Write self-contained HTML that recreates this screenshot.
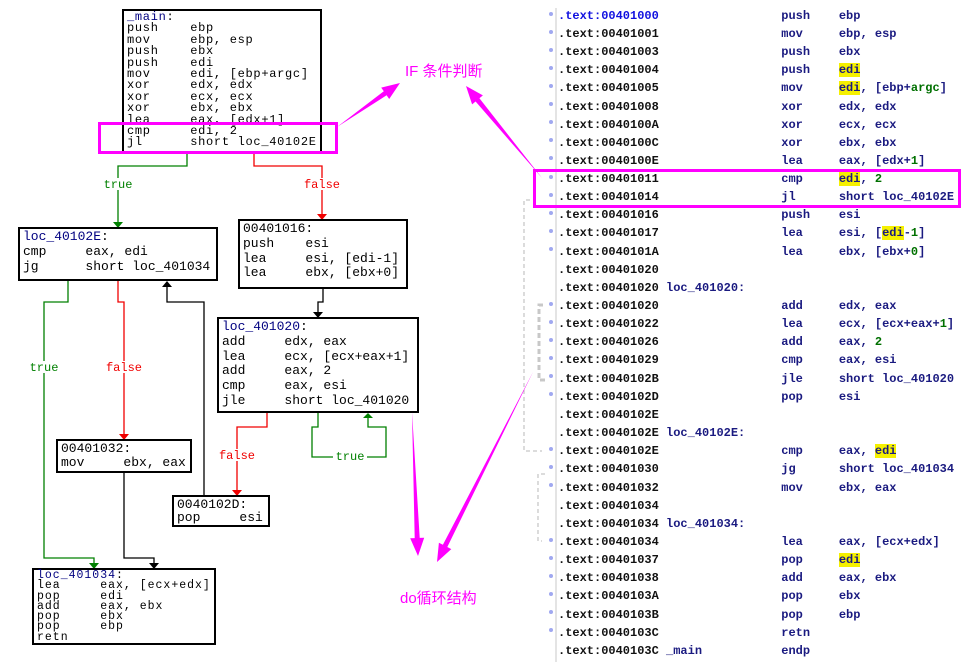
<!DOCTYPE html>
<html><head><meta charset="utf-8"><style>
body{margin:0;width:962px;height:662px;background:#fff;position:relative;overflow:hidden}
.bx{position:absolute;border:2px solid #000;background:#fff;box-sizing:border-box}
.bx pre{margin:0;font-family:"Liberation Mono",monospace;color:#000;white-space:pre}
.s pre{font-size:12px;line-height:11.4px;letter-spacing:0.7px;padding:1px 0 0 3px}
.m pre{font-size:13px;line-height:14.8px;padding:1px 0 0 3px}
.b{color:#000080}
#svg{position:absolute;left:0;top:0}
.r{position:absolute;left:558px;font:bold 12px/18px "Liberation Mono",monospace;color:#111;white-space:pre}
.r .n{color:#1a1a80}
.r .g{color:#007000}
.r .y{background:#f5f000}
.dot{position:absolute;left:549px;width:4px;height:4px;border-radius:2px;background:#a0a8f0}
</style></head><body>
<svg id="svg" width="962" height="662">
<line x1="556" y1="8" x2="556" y2="662" stroke="#e4e4e4" stroke-width="2"/>
<g fill="none" stroke-width="1.3">
<polyline points="187,152 187,166 118,166 118,222" stroke="#008000"/>
<polyline points="254,152 254,166 322,166 322,214" stroke="#f00000"/>
<polyline points="68,280 68,302 44,302 44,558 94,558 94,563" stroke="#008000"/>
<polyline points="118,280 118,302 124,302 124,434" stroke="#f00000"/>
<polyline points="124,472 124,558 154,558 154,563" stroke="#000"/>
<polyline points="204,496 204,302 167,302 167,286" stroke="#000"/>
<polyline points="323,288 323,302 318,302 318,312" stroke="#000"/>
<polyline points="267,412 267,427 237,427 237,490" stroke="#f00000"/>
<polyline points="318,412 318,427 312,427 312,457 386,457 386,427 368,427 368,418" stroke="#008000"/>
</g>
<polygon points="113,222 123,222 118,228" fill="#008000"/>
<polygon points="317,214 327,214 322,220" fill="#f00000"/>
<polygon points="89,563 99,563 94,569" fill="#008000"/>
<polygon points="119,434 129,434 124,440" fill="#f00000"/>
<polygon points="149,563 159,563 154,569" fill="#000"/>
<polygon points="162,287 172,287 167,281" fill="#000"/>
<polygon points="313,312 323,312 318,318" fill="#000"/>
<polygon points="232,490 242,490 237,496" fill="#f00000"/>
<polygon points="363,418 373,418 368,413" fill="#008000"/>
<g font-family="Liberation Mono,monospace" font-size="12" text-anchor="middle">
<rect x="100" y="178" width="36" height="12" fill="#fff"/><text x="118" y="188" fill="#008000">true</text>
<rect x="300" y="178" width="44" height="12" fill="#fff"/><text x="322" y="188" fill="#f00000">false</text>
<rect x="26" y="361" width="36" height="12" fill="#fff"/><text x="44" y="371" fill="#008000">true</text>
<rect x="102" y="361" width="44" height="12" fill="#fff"/><text x="124" y="371" fill="#f00000">false</text>
<rect x="215" y="449" width="44" height="12" fill="#fff"/><text x="237" y="459" fill="#f00000">false</text>
<rect x="333" y="451" width="34" height="12" fill="#fff"/><text x="350" y="460" fill="#008000">true</text>
</g>
<g stroke="#c8c8c8" stroke-dasharray="4,3" fill="none" stroke-width="1.3">
<polyline points="530,200 524,200 524,451 542,451"/>
<polyline points="545,474 538,474 538,541 542,541"/>
</g>
<g stroke="#c8c8c8" stroke-dasharray="5,3" fill="none" stroke-width="3">
<polyline points="545,380 539,380 539,305 543,305"/>
</g>
</svg>

<div class="bx s" style="left:122px;top:9px;width:200px;height:144px"><pre><span class="b">_main</span>:
push    ebp
mov     ebp, esp
push    ebx
push    edi
mov     edi, [ebp+argc]
xor     edx, edx
xor     ecx, ecx
xor     ebx, ebx
lea     eax, [edx+1]
cmp     edi, 2
jl      short loc_40102E</pre></div>
<div class="bx m" style="left:18px;top:227px;width:200px;height:54px"><pre><span class="b">loc_40102E</span>:
cmp     eax, edi
jg      short loc_401034</pre></div>
<div class="bx m" style="left:238px;top:219px;width:170px;height:70px"><pre>00401016:
push    esi
lea     esi, [edi-1]
lea     ebx, [ebx+0]</pre></div>
<div class="bx m" style="left:217px;top:317px;width:202px;height:96px"><pre><span class="b">loc_401020</span>:
add     edx, eax
lea     ecx, [ecx+eax+1]
add     eax, 2
cmp     eax, esi
jle     short loc_401020</pre></div>
<div class="bx m" style="left:56px;top:439px;width:136px;height:34px"><pre style="line-height:14px">00401032:
mov     ebx, eax</pre></div>
<div class="bx m" style="left:172px;top:495px;width:98px;height:32px"><pre style="line-height:13px">0040102D:
pop     esi</pre></div>
<div class="bx s" style="left:32px;top:568px;width:184px;height:77px"><pre style="line-height:10.3px;font-size:11.5px;letter-spacing:1px"><span class="b">loc_401034</span>:
lea     eax, [ecx+edx]
pop     edi
add     eax, ebx
pop     ebx
pop     ebp
retn</pre></div>

<div class="r" style="top:7px"><span style="color:#1010e0">.text:00401000</span>                 <span class="n">push    ebp</span></div>
<div class="r" style="top:25px">.text:00401001                 <span class="n">mov     ebp, esp</span></div>
<div class="r" style="top:43px">.text:00401003                 <span class="n">push    ebx</span></div>
<div class="r" style="top:61px">.text:00401004                 <span class="n">push    <span class="y">edi</span></span></div>
<div class="r" style="top:79px">.text:00401005                 <span class="n">mov     <span class="y">edi</span>, [ebp+<span class="g">argc</span>]</span></div>
<div class="r" style="top:98px">.text:00401008                 <span class="n">xor     edx, edx</span></div>
<div class="r" style="top:116px">.text:0040100A                 <span class="n">xor     ecx, ecx</span></div>
<div class="r" style="top:134px">.text:0040100C                 <span class="n">xor     ebx, ebx</span></div>
<div class="r" style="top:152px">.text:0040100E                 <span class="n">lea     eax, [edx+<span class="g">1</span>]</span></div>
<div class="r" style="top:170px">.text:00401011                 <span class="n">cmp     <span class="y">edi</span>, <span class="g">2</span></span></div>
<div class="r" style="top:188px">.text:00401014                 <span class="n">jl      short loc_40102E</span></div>
<div class="r" style="top:206px">.text:00401016                 <span class="n">push    esi</span></div>
<div class="r" style="top:224px">.text:00401017                 <span class="n">lea     esi, [<span class="y">edi</span>-<span class="g">1</span>]</span></div>
<div class="r" style="top:243px">.text:0040101A                 <span class="n">lea     ebx, [ebx+<span class="g">0</span>]</span></div>
<div class="r" style="top:261px">.text:00401020</div>
<div class="r" style="top:279px">.text:00401020 <span class="n">loc_401020:</span></div>
<div class="r" style="top:297px">.text:00401020                 <span class="n">add     edx, eax</span></div>
<div class="r" style="top:315px">.text:00401022                 <span class="n">lea     ecx, [ecx+eax+<span class="g">1</span>]</span></div>
<div class="r" style="top:333px">.text:00401026                 <span class="n">add     eax, <span class="g">2</span></span></div>
<div class="r" style="top:351px">.text:00401029                 <span class="n">cmp     eax, esi</span></div>
<div class="r" style="top:370px">.text:0040102B                 <span class="n">jle     short loc_401020</span></div>
<div class="r" style="top:388px">.text:0040102D                 <span class="n">pop     esi</span></div>
<div class="r" style="top:406px">.text:0040102E</div>
<div class="r" style="top:424px">.text:0040102E <span class="n">loc_40102E:</span></div>
<div class="r" style="top:442px">.text:0040102E                 <span class="n">cmp     eax, <span class="y">edi</span></span></div>
<div class="r" style="top:460px">.text:00401030                 <span class="n">jg      short loc_401034</span></div>
<div class="r" style="top:479px">.text:00401032                 <span class="n">mov     ebx, eax</span></div>
<div class="r" style="top:497px">.text:00401034</div>
<div class="r" style="top:515px">.text:00401034 <span class="n">loc_401034:</span></div>
<div class="r" style="top:533px">.text:00401034                 <span class="n">lea     eax, [ecx+edx]</span></div>
<div class="r" style="top:551px">.text:00401037                 <span class="n">pop     <span class="y">edi</span></span></div>
<div class="r" style="top:569px">.text:00401038                 <span class="n">add     eax, ebx</span></div>
<div class="r" style="top:587px">.text:0040103A                 <span class="n">pop     ebx</span></div>
<div class="r" style="top:606px">.text:0040103B                 <span class="n">pop     ebp</span></div>
<div class="r" style="top:624px">.text:0040103C                 <span class="n">retn</span></div>
<div class="r" style="top:642px">.text:0040103C <span class="n">_main           endp</span></div>

<div class="dot" style="top:12px"></div><div class="dot" style="top:30px"></div><div class="dot" style="top:48px"></div>
<div class="dot" style="top:66px"></div><div class="dot" style="top:84px"></div><div class="dot" style="top:102px"></div>
<div class="dot" style="top:120px"></div><div class="dot" style="top:138px"></div><div class="dot" style="top:156px"></div>
<div class="dot" style="top:175px"></div><div class="dot" style="top:193px"></div><div class="dot" style="top:211px"></div>
<div class="dot" style="top:229px"></div><div class="dot" style="top:247px"></div>
<div class="dot" style="top:302px"></div><div class="dot" style="top:320px"></div><div class="dot" style="top:338px"></div>
<div class="dot" style="top:356px"></div><div class="dot" style="top:374px"></div><div class="dot" style="top:392px"></div>
<div class="dot" style="top:447px"></div><div class="dot" style="top:465px"></div><div class="dot" style="top:483px"></div>
<div class="dot" style="top:538px"></div><div class="dot" style="top:556px"></div><div class="dot" style="top:574px"></div>
<div class="dot" style="top:592px"></div><div class="dot" style="top:610px"></div><div class="dot" style="top:628px"></div>

<svg style="position:absolute;left:0;top:0" width="962" height="662">
<rect x="99.5" y="123.5" width="237" height="29" fill="none" stroke="#ff00ff" stroke-width="3"/>
<rect x="534.5" y="170.5" width="425" height="36" fill="none" stroke="#ff00ff" stroke-width="3"/>
<g fill="#ff00ff">
<polygon points="337,127 386.6,95.3 389.2,99 400,83 381.2,87.6 383.8,91.3"/>
<polygon points="542,178 479.4,98.3 482.9,95.4 466,86 472.1,104.4 475.6,101.5"/>
<polygon points="412,412 419.7,537.9 424.2,537.7 418,556 410.2,538.3 414.7,538.1"/>
<polygon points="533,372 447.3,547 451.3,549.1 437,562 438.9,542.7 442.9,544.8"/>
</g>
<g font-family="Liberation Sans,Noto Sans CJK SC,sans-serif" font-size="15" fill="#ff00ff">
<text x="405" y="76">IF 条件判断</text>
<text x="400" y="603">do循环结构</text>
</g>
</svg>
</body></html>
